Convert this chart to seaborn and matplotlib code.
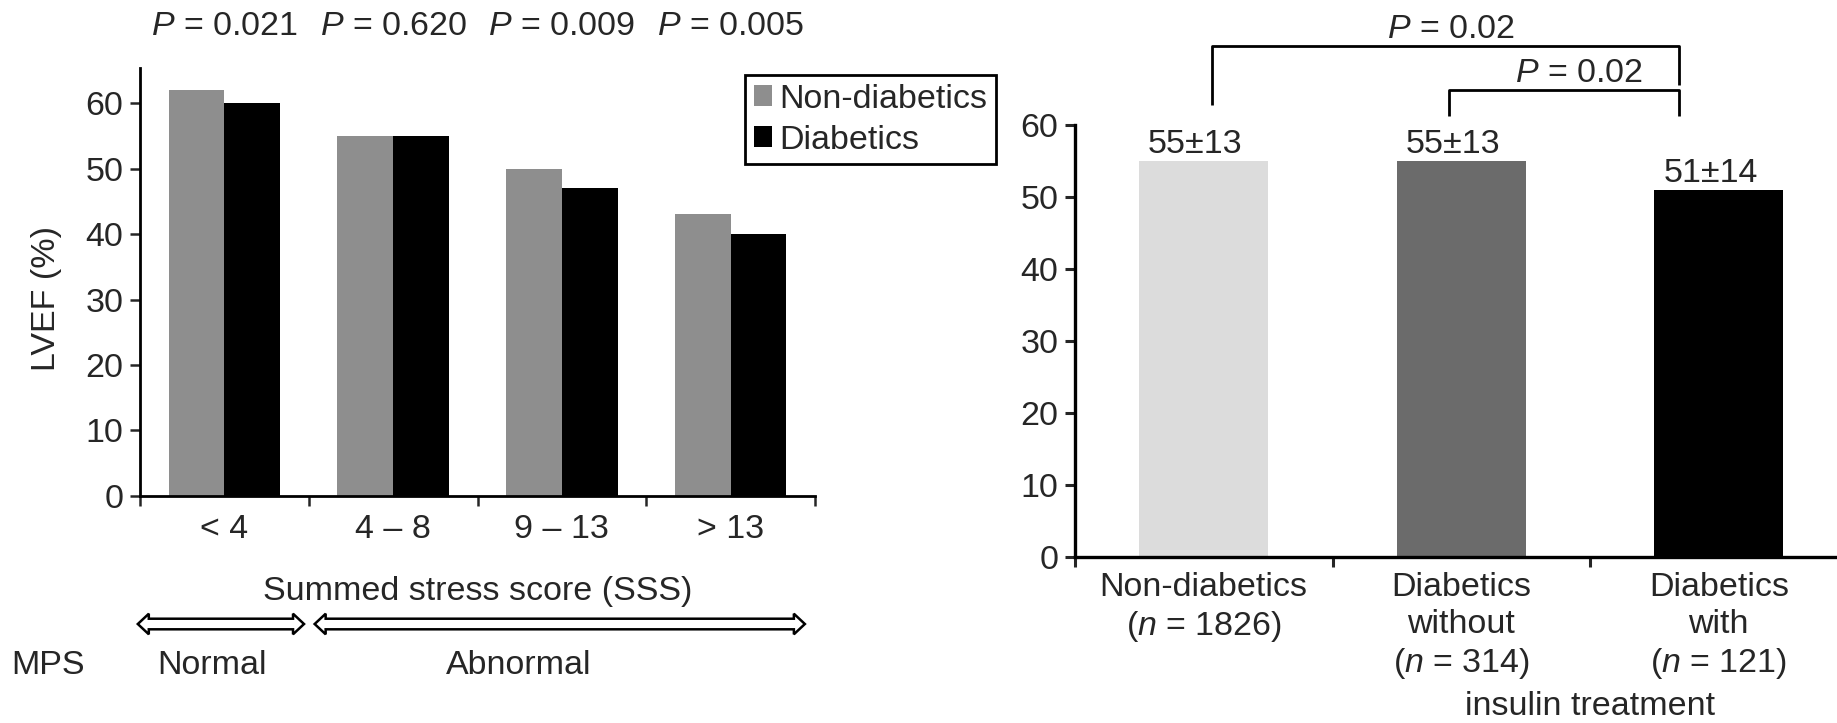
import numpy as np
import pandas as pd
import matplotlib
matplotlib.use("Agg")
import matplotlib.pyplot as plt
import seaborn as sns
from matplotlib.patches import Polygon
from matplotlib.transforms import blended_transform_factory

# ---- data -------------------------------------------------------------
sss_bins = ["< 4", "4 – 8", "9 – 13", "> 13"]
groups = ["Non-diabetics", "Diabetics"]
lvef_non_diabetic = [62, 55, 50, 43]
lvef_diabetic = [60, 55, 47, 40]
p_by_bin = ["0.021", "0.620", "0.009", "0.005"]

insulin_groups = [
    "Non-diabetics\n($n$ = 1826)",
    "Diabetics\nwithout\n($n$ = 314)",
    "Diabetics\nwith\n($n$ = 121)",
]
insulin_mean = [55, 55, 51]
insulin_sd = [13, 13, 14]
p_overall = "0.02"
p_insulin = "0.02"

# ---- style ------------------------------------------------------------
sns.set_theme(style="ticks")
plt.rcParams["font.family"] = ["Liberation Sans", "DejaVu Sans"]
plt.rcParams["mathtext.fontset"] = "custom"
plt.rcParams["mathtext.rm"] = "Liberation Sans"
plt.rcParams["mathtext.it"] = "Liberation Sans:italic"
FS = 24.5

W, H = 1837, 723
fig = plt.figure(figsize=(W / 100, H / 100), dpi=100, facecolor="white")

# ---- left panel: LVEF by summed stress score --------------------------
axL = fig.add_axes([140 / W, 1 - 495.7 / H, 675 / W, 427.7 / H])
df_left = pd.DataFrame({
    "SSS": sss_bins * 2,
    "LVEF": lvef_non_diabetic + lvef_diabetic,
    "Group": [groups[0]] * len(sss_bins) + [groups[1]] * len(sss_bins),
})
sns.barplot(data=df_left, x="SSS", y="LVEF", hue="Group", order=sss_bins,
            hue_order=groups, palette=["#8e8e8e", "#000000"], width=0.66,
            saturation=1, errorbar=None, linewidth=0, ax=axL)
handles, labels = axL.get_legend_handles_labels()
axL.get_legend().remove()

axL.set_xlim(-0.5, len(sss_bins) - 0.5)
axL.set_ylim(0, 65.4)
axL.set_yticks(np.arange(0, 61, 10))
axL.set_xticks(range(len(sss_bins)), labels=sss_bins)
axL.set_xticks(np.arange(-0.5, len(sss_bins)), minor=True)
axL.tick_params(axis="x", which="major", length=0, pad=13, labelsize=FS)
axL.tick_params(axis="x", which="minor", length=7, width=1.8, direction="out")
axL.tick_params(axis="y", length=7, width=1.8, pad=5, labelsize=FS)
for side in ("top", "right"):
    axL.spines[side].set_visible(False)
for side in ("left", "bottom"):
    axL.spines[side].set_linewidth(2)
    axL.spines[side].set_color("black")

axL.set_ylabel("LVEF (%)", fontsize=FS)
axL.yaxis.label.set_va("center")
axL.yaxis.set_label_coords(-0.139, 0.462)
axL.set_xlabel("Summed stress score (SSS)", fontsize=FS)
axL.xaxis.label.set_va("center")
axL.xaxis.set_label_coords(0.5, -0.225)

trL = blended_transform_factory(axL.transData, axL.transAxes)
for i, p in enumerate(p_by_bin):
    axL.text(i, 1.0966, f"$P$ = {p}", transform=trL, ha="center",
             va="center", fontsize=FS, clip_on=False)

leg = fig.legend(handles, labels, loc="upper right",
                 bbox_to_anchor=(995.7 / W, 1 - 75 / H),
                 bbox_transform=fig.transFigure, frameon=True, fancybox=False,
                 edgecolor="black", framealpha=1, fontsize=FS,
                 handlelength=0.55, handleheight=0.55, handletextpad=0.2,
                 borderpad=0.25, labelspacing=0.3, borderaxespad=0)
leg.get_frame().set_linewidth(2)


def double_arrow(ax, x0, x1, yc, px_x, px_y):
    """Hollow double-headed arrow; x in data units, y in axes fraction."""
    hl = 11 / px_x
    hh = 10.3 / px_y
    sh = 5.3 / px_y
    pts = [(x0, yc), (x0 + hl, yc + hh), (x0 + hl, yc + sh),
           (x1 - hl, yc + sh), (x1 - hl, yc + hh), (x1, yc),
           (x1 - hl, yc - hh), (x1 - hl, yc - sh), (x0 + hl, yc - sh),
           (x0 + hl, yc - hh)]
    poly = Polygon(pts, closed=True, facecolor="white", edgecolor="black",
                   linewidth=1.8, transform=blended_transform_factory(
                       ax.transData, ax.transAxes), clip_on=False)
    ax.add_patch(poly)


px_per_cat = 675 / len(sss_bins)
double_arrow(axL, -0.513, 0.472, -0.300, px_per_cat, 427.7)
double_arrow(axL, 0.535, 3.44, -0.300, px_per_cat, 427.7)
axL.text(-1.045, -0.396, "MPS", transform=trL, ha="center", va="center",
         fontsize=FS, clip_on=False)
axL.text(-0.073, -0.396, "Normal", transform=trL, ha="center", va="center",
         fontsize=FS, clip_on=False)
axL.text(1.746, -0.396, "Abnormal", transform=trL, ha="center", va="center",
         fontsize=FS, clip_on=False)

# ---- right panel: LVEF by diabetes / insulin treatment ----------------
axR = fig.add_axes([1075 / W, 1 - 556.7 / H, (W - 1075) / W, 431.7 / H])
df_right = pd.DataFrame({"Group": insulin_groups, "LVEF": insulin_mean})
sns.barplot(data=df_right, x="Group", y="LVEF", hue="Group",
            order=insulin_groups, hue_order=insulin_groups,
            palette=["#dcdcdc", "#6b6b6b", "#000000"], width=0.5,
            saturation=1, errorbar=None, linewidth=0, legend=False, ax=axR)

axR.set_ylim(0, 60)
axR.set_xlim(-0.5, -0.5 + (W - 1075) / 257.5)
axR.set_yticks(np.arange(0, 61, 10))
axR.set_xticks(range(len(insulin_groups)), labels=insulin_groups)
axR.set_xticks(np.arange(-0.5, len(insulin_groups) - 0.5), minor=True)
axR.tick_params(axis="x", which="major", length=0, pad=11, labelsize=FS)
axR.tick_params(axis="x", which="minor", length=7, width=2.2, direction="out")
axR.tick_params(axis="y", length=7, width=2.2, pad=5, labelsize=FS)
for lbl in axR.get_xticklabels():
    lbl.set_linespacing(1.25)
for side in ("top", "right"):
    axR.spines[side].set_visible(False)
for side in ("left", "bottom"):
    axR.spines[side].set_linewidth(2.4)
    axR.spines[side].set_color("black")
axR.set_xlabel("")
axR.set_ylabel("")

for i, (m, sd) in enumerate(zip(insulin_mean, insulin_sd)):
    axR.annotate(f"{m}±{sd}", xy=(i, m), xytext=(-6, 0.5),
                 textcoords="offset points", ha="center", va="bottom",
                 fontsize=FS, annotation_clip=False)

trR = blended_transform_factory(axR.transData, axR.transAxes)
axR.text(1.5, -0.3665, "insulin treatment", transform=trR, ha="center",
         va="baseline", fontsize=FS, clip_on=False)

# significance brackets
bracket_kw = dict(color="black", linewidth=2, clip_on=False,
                  solid_capstyle="butt")
axR.plot([0.033, 0.033, 1.846, 1.846], [62.8, 71.0, 71.0, 65.5], **bracket_kw)
axR.plot([0.952, 0.952, 1.846, 1.846], [61.2, 64.85, 64.85, 61.2], **bracket_kw)
axR.text(0.959, 73.3, f"$P$ = {p_overall}", ha="center", va="center",
         fontsize=FS, clip_on=False)
axR.text(1.457, 67.1, f"$P$ = {p_insulin}", ha="center", va="center",
         fontsize=FS, clip_on=False)

fig.savefig("out.png", dpi=100, facecolor="white")
